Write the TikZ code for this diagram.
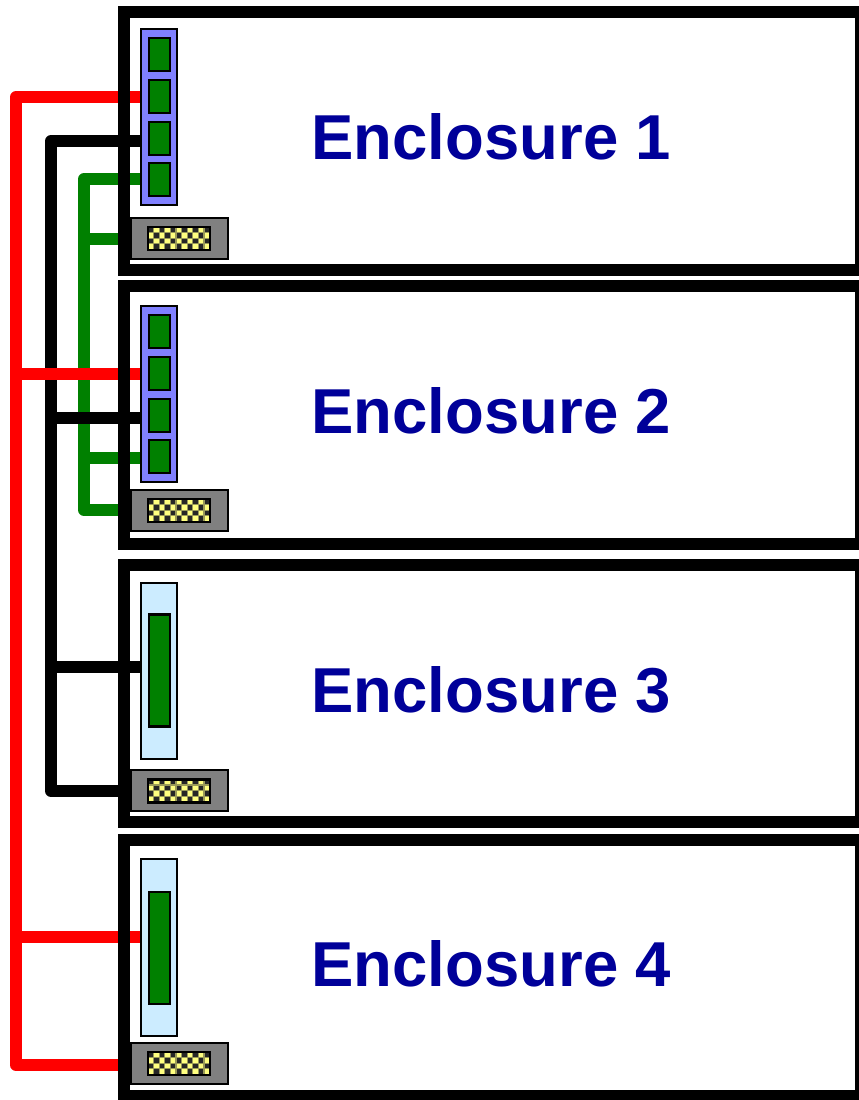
\documentclass[tikz,border=0pt]{standalone}
\usepackage{fontspec}
\setmainfont{Liberation Sans}
\definecolor{trunkgreen}{HTML}{008000}
\definecolor{modblue}{HTML}{8080FF}
\definecolor{modpale}{HTML}{CCECFF}
\definecolor{chipgray}{HTML}{808080}
\definecolor{chkyellow}{HTML}{FFFF80}
\definecolor{chkmid}{HTML}{9A9A58}
\definecolor{labelblue}{HTML}{000099}
\tikzset{
  px/.style={x=0.75pt,y=-0.75pt},
  box/.style 2 args={rectangle,inner sep=0pt,outer sep=0pt,minimum width=#1*0.75pt,minimum height=#2*0.75pt},
  enclosure/.style={box={737}{#1},draw=black,line width=9pt},
  module/.style={box={36}{#1},draw=black,line width=1pt},
  cell/.style={box={21}{#1},fill=trunkgreen,draw=black,line width=1.6pt},
  port/.style={box={97}{41},fill=chipgray,draw=black,line width=1pt},
  checker/.style={box={62}{23},fill=chkmid,draw=black,line width=1.6pt,
    path picture={
      \foreach \i in {0,...,11}{\foreach \j in {0,...,4}{
        \pgfmathtruncatemacro{\k}{mod(\i+\j,2)}
        \ifnum\k=0
          \fill[black!85] ([xshift=\i*4.2pt+0.5pt,yshift=-\j*4.2pt-0.5pt]path picture bounding box.north west) rectangle ++(3.2pt,-3.2pt);
        \else
          \fill[chkyellow] ([xshift=\i*4.2pt+0.5pt,yshift=-\j*4.2pt-0.5pt]path picture bounding box.north west) rectangle ++(3.2pt,-3.2pt);
        \fi
      }}
    }},
  wire/.style={line width=9pt,line join=round,line cap=butt},
  title/.style={anchor=base west,inner sep=0pt,outer sep=0pt,text=labelblue,font=\fontsize{47.6}{50}\selectfont\bfseries},
}
\begin{document}
\begin{tikzpicture}[px]
\useasboundingbox (0,0) rectangle (859,1100);
\clip (0,0) rectangle (859,1100);
% bus coordinates
\coordinate (gbus) at (84,300);
\coordinate (kbus) at (51,300);
\coordinate (rbus) at (16,300);
% port coordinates
\coordinate (r1) at (141,97);
\coordinate (k1) at (141,141);
\coordinate (g1) at (141,179);
\coordinate (g1b) at (125,239);
\coordinate (r2) at (141,374);
\coordinate (k2) at (141,418);
\coordinate (g2) at (141,458);
\coordinate (g2b) at (125,510);
\coordinate (k3) at (141,667);
\coordinate (k3b) at (125,791);
\coordinate (r4) at (141,937);
\coordinate (r4b) at (125,1065);
% connectors
\draw[wire,trunkgreen] (g1) -| (gbus) |- (g2b);
\draw[wire,trunkgreen] (gbus |- g1b) -- (g1b);
\draw[wire,trunkgreen] (gbus |- g2) -- (g2);
\draw[wire,black] (k1) -| (kbus) |- (k3b);
\draw[wire,black] (kbus |- k2) -- (k2);
\draw[wire,black] (kbus |- k3) -- (k3);
\draw[wire,red] (r1) -| (rbus) |- (r4b);
\draw[wire,red] (rbus |- r2) -- (r2);
\draw[wire,red] (rbus |- r4) -- (r4);
% enclosures
\node[enclosure=258] (e1) at (492.5,141) {};
\node[enclosure=258] (e2) at (492.5,415) {};
\node[enclosure=257] (e3) at (492.5,693.5) {};
\node[enclosure=256] (e4) at (492.5,968) {};
% modules
\node[module=176,fill=modblue] (m1) at (159,117) {};
\node[cell=33] (c11) at (159.5,54.5) {};
\node[cell=33] (c12) at (159.5,96.5) {};
\node[cell=33] (c13) at (159.5,138.5) {};
\node[cell=33] (c14) at (159.5,179.5) {};
\node[module=176,fill=modblue] (m2) at (159,394) {};
\node[cell=33] (c21) at (159.5,331.5) {};
\node[cell=33] (c22) at (159.5,373.5) {};
\node[cell=33] (c23) at (159.5,415.5) {};
\node[cell=33] (c24) at (159.5,456.5) {};
\node[module=176,fill=modpale] (m3) at (159,671) {};
\node[cell=112] (c3) at (159.5,670.5) {};
\node[module=177,fill=modpale] (m4) at (159,947.5) {};
\node[cell=112] (c4) at (159.5,948) {};
% port boxes
\node[port] (p1) at (179.5,238.5) {};
\node[checker] (x1) at (179,238.5) {};
\node[port] (p2) at (179.5,510.5) {};
\node[checker] (x2) at (179,510.5) {};
\node[port] (p3) at (179.5,790.5) {};
\node[checker] (x3) at (179,791) {};
\node[port] (p4) at (179.5,1063.5) {};
\node[checker] (x4) at (179,1063.5) {};
% titles
\node[title] (t1) at (311.5,159.5) {Enclosure 1};
\node[title] (t2) at (311.5,433) {Enclosure 2};
\node[title] (t3) at (311.5,712) {Enclosure 3};
\node[title] (t4) at (311.5,986) {Enclosure 4};
\end{tikzpicture}
\end{document}
